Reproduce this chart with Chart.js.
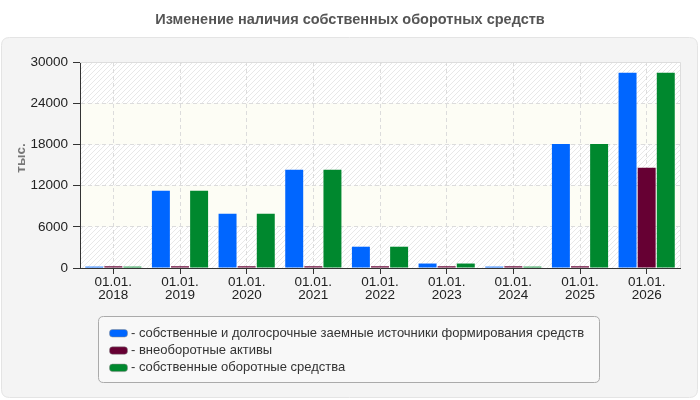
<!DOCTYPE html>
<html>
<head>
<meta charset="utf-8">
<script src="https://cdn.jsdelivr.net/npm/chart.js@4"></script>
<style>
  html, body { margin: 0; padding: 0; background: #fff; }
  #wrap { width: 700px; height: 400px; }
</style>
</head>
<body>
<div id="wrap"><canvas id="capitalChart" width="700" height="400"></canvas></div>
<script>
// data (тыс.)
const years = ['2018', '2019', '2020', '2021', '2022', '2023', '2024', '2025', '2026'];
const ownLongTerm = [200, 11250, 7900, 14300, 3100, 650, 200, 18050, 28450];
const nonCurrent = [250, 250, 250, 250, 250, 250, 250, 250, 14600];
const ownWorking = [200, 11250, 7900, 14300, 3100, 650, 200, 18050, 28450];
const seriesNames = [
  'собственные и долгосрочные заемные источники формирования средств',
  'внеоборотные активы',
  'собственные оборотные средства'
];
const seriesColors = ['#0066ff', '#660033', '#00882e'];
const yTicks = [0, 6000, 12000, 18000, 24000, 30000];

const FONT = '"Liberation Sans", Arial, sans-serif';

function roundRect(ctx, x, y, w, h, r) {
  ctx.beginPath();
  ctx.moveTo(x + r, y);
  ctx.lineTo(x + w - r, y);
  ctx.quadraticCurveTo(x + w, y, x + w, y + r);
  ctx.lineTo(x + w, y + h - r);
  ctx.quadraticCurveTo(x + w, y + h, x + w - r, y + h);
  ctx.lineTo(x + r, y + h);
  ctx.quadraticCurveTo(x, y + h, x, y + h - r);
  ctx.lineTo(x, y + r);
  ctx.quadraticCurveTo(x, y, x + r, y);
  ctx.closePath();
}

// small hatch tile for the striped bands
function makeHatch(ctx) {
  const c = document.createElement('canvas');
  c.width = 5; c.height = 5;
  const g = c.getContext('2d');
  g.fillStyle = '#ffffff';
  g.fillRect(0, 0, 5, 5);
  g.strokeStyle = '#e8e8e8';
  g.lineWidth = 1;
  g.beginPath();
  g.moveTo(0, 5); g.lineTo(5, 0);
  g.moveTo(-1, 1); g.lineTo(1, -1);
  g.moveTo(4, 6); g.lineTo(6, 4);
  g.stroke();
  return ctx.createPattern(c, 'repeat');
}

const backdrop = {
  id: 'backdrop',
  beforeDraw(chart) {
    const ctx = chart.ctx;
    const area = chart.chartArea;
    const y = chart.scales.y;
    ctx.save();
    // grey panel
    roundRect(ctx, 1.5, 37.5, 696, 360, 8);
    ctx.fillStyle = '#f4f4f4';
    ctx.fill();
    ctx.strokeStyle = '#e4e4e4';
    ctx.lineWidth = 1;
    ctx.stroke();

    // title
    ctx.fillStyle = '#555';
    ctx.font = 'bold 14.5px ' + FONT;
    ctx.textAlign = 'center';
    ctx.textBaseline = 'middle';
    ctx.fillText('Изменение наличия собственных оборотных средств', 350, 20);

    // alternating bands
    const hatch = makeHatch(ctx);
    for (let i = 0; i < yTicks.length - 1; i++) {
      const top = y.getPixelForValue(yTicks[i + 1]);
      const bot = y.getPixelForValue(yTicks[i]);
      ctx.fillStyle = (i % 2 === 0) ? hatch : '#fdfdf5';
      ctx.fillRect(area.left, top, area.right - area.left, bot - top);
    }

    // axis title
    ctx.save();
    ctx.translate(21, 158);
    ctx.rotate(-Math.PI / 2);
    ctx.fillStyle = '#777';
    ctx.font = 'bold 13.5px ' + FONT;
    ctx.fillText('тыс.', 0, 0);
    ctx.restore();
    ctx.restore();
  },
  afterDraw(chart) {
    const ctx = chart.ctx;
    const area = chart.chartArea;
    ctx.save();
    // light frame on top and right
    ctx.strokeStyle = '#dddddd';
    ctx.lineWidth = 1;
    ctx.beginPath();
    ctx.moveTo(area.left, area.top + 0.5);
    ctx.lineTo(area.right + 0.5, area.top + 0.5);
    ctx.lineTo(area.right + 0.5, area.bottom);
    ctx.stroke();

    // legend box
    roundRect(ctx, 98.5, 316.5, 501, 66, 5);
    ctx.fillStyle = '#f8f8f8';
    ctx.fill();
    ctx.strokeStyle = '#aaaaaa';
    ctx.stroke();
    ctx.font = '13px ' + FONT;
    ctx.textAlign = 'left';
    ctx.textBaseline = 'middle';
    chart.data.datasets.forEach(function(ds, i) {
      const cy = 333 + i * 17.3;
      roundRect(ctx, 109.5, cy - 3.5, 18, 7.5, 3);
      ctx.fillStyle = ds.backgroundColor;
      ctx.fill();
      ctx.strokeStyle = '#888';
      ctx.lineWidth = 0.5;
      ctx.stroke();
      ctx.fillStyle = '#333';
      ctx.fillText('- ' + ds.label, 131, cy);
    });
    ctx.restore();
  }
};

document.addEventListener('DOMContentLoaded', function() {
  const ctx = document.getElementById('capitalChart').getContext('2d');
  const values = [ownLongTerm, nonCurrent, ownWorking];
  new Chart(ctx, {
    type: 'bar',
    data: {
      labels: years.map(function(y) { return ['01.01.', y]; }),
      datasets: values.map(function(v, i) {
        return {
          label: seriesNames[i],
          data: v,
          backgroundColor: seriesColors[i],
          borderWidth: 0
        };
      })
    },
    options: {
      responsive: false,
      animation: false,
      devicePixelRatio: 1,
      categoryPercentage: 0.86,
      barPercentage: 0.94,
      layout: { padding: { top: 62, right: 20, left: 0, bottom: 0 } },
      plugins: {
        legend: { display: false },
        tooltip: { enabled: false }
      },
      scales: {
        x: {
          grid: {
            offset: false,
            color: '#dcdcdc',
            tickColor: '#333',
            tickLength: 6,
            drawOnChartArea: true
          },
          border: { display: true, color: '#333', width: 1, dash: [4, 3] },
          ticks: {
            color: '#222',
            font: { family: FONT, size: 13.5, lineHeight: 0.95 },
            padding: 2,
            maxRotation: 0,
            autoSkip: false
          },
          afterFit: function(scale) { scale.height = 132; }
        },
        y: {
          min: 0,
          max: 30000,
          afterBuildTicks: function(scale) {
            scale.ticks = yTicks.map(function(v) { return { value: v }; });
          },
          grid: {
            color: '#dcdcdc',
            tickColor: '#333',
            tickLength: 7
          },
          border: { display: true, color: '#333', width: 1, dash: [4, 3] },
          ticks: {
            color: '#222',
            font: { family: FONT, size: 13.5 },
            padding: 5,
            callback: function(v) { return String(v); }
          },
          afterFit: function(scale) { scale.width = 80; }
        }
      }
    },
    plugins: [backdrop]
  });
});
</script>
</body>
</html>
